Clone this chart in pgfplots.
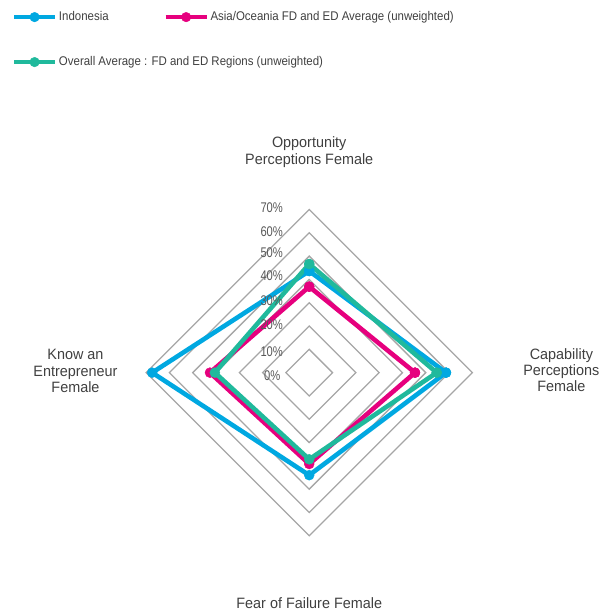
\documentclass[border=0pt]{standalone}
\usepackage{fontspec}
\setmainfont{Liberation Sans}[FakeStretch=0.96]
\newfontfamily\legfont{Liberation Sans}[FakeStretch=0.91]
\newfontfamily\tickfont{Liberation Sans}[FakeStretch=0.8]
\usepackage{pgfplots}
\pgfplotsset{compat=1.18}

\definecolor{indo}{HTML}{00A8E1}
\definecolor{asia}{HTML}{E6007E}
\definecolor{fded}{HTML}{20B99C}
\definecolor{ring}{HTML}{A6A6A6}
\definecolor{labc}{HTML}{404040}
\definecolor{tickc}{HTML}{595959}

\pgfplotsset{
  radar/.style={line width=4.6pt, line join=round, mark=*, mark size=5pt,
    mark options={line width=0.4pt}},
  leg/.style={legend image code/.code={
    \draw[mark repeat=2, mark phase=2, ##1, line width=3.8pt, mark size=4.8pt]
      plot coordinates {(0pt,0pt) (20.5pt,0pt) (41pt,0pt)};}},
  frame/.style={scale only axis, width=611pt, height=612pt,
    xmin=-132.7, xmax=129.5, ymin=-102.7, ymax=159.9,
    hide axis, clip=false, leg, legend cell align=left},
  lgd/.style={draw=none, fill=none, inner sep=0pt, text=labc,
    font=\legfont\fontsize{12.6}{14}\selectfont}
}

\begin{document}
\begin{tikzpicture}
\useasboundingbox (0,0) rectangle (611pt,612pt);
\begin{axis}[frame,
  legend columns=2,
  legend style={lgd, at={(0.01964,0.9843)}, anchor=north west,
    /tikz/every odd column/.append style={column sep=0pt},
    /tikz/every even column/.append style={column sep=53pt}}]

% diamond rings 10% .. 70%
\pgfplotsinvokeforeach{10,20,30,40,50,60,70}{
  \addplot[ring, line width=1.3pt, forget plot]
    coordinates {(0,#1) (#1,0) (0,-#1) (-#1,0) (0,#1) (#1,0)};
}

% top = opportunity, right = capability, bottom = fear of failure, left = know an entrepreneur
\addplot[indo, radar] coordinates {(0,43.6) (58.7,0) (0,-44.0) (-67.4,0) (0,43.6) (58.7,0)};
\addlegendentry{Indonesia}
\addplot[asia, radar] coordinates {(0,36.9) (45.4,0) (0,-39.2) (-42.6,0) (0,36.9) (45.4,0)};
\addlegendentry{Asia/Oceania FD and ED Average (unweighted)}
\addplot[fded, radar, forget plot] coordinates {(0,46.6) (54.7,0) (0,-37.2) (-40.5,0) (0,46.6) (54.7,0)};

% scale labels
\begin{scope}[every node/.style={anchor=base east, inner sep=0pt, text=tickc,
    font=\tickfont\fontsize{14}{16}\selectfont}]
\node at (axis cs:-11.2,68.6) {70\%};
\node at (axis cs:-11.2,58.6) {60\%};
\node at (axis cs:-11.2,49.3) {50\%};
\node at (axis cs:-11.2,39.4) {40\%};
\node at (axis cs:-11.2,29.0) {30\%};
\node at (axis cs:-11.2,18.6) {20\%};
\node at (axis cs:-11.2,6.9) {10\%};
\node at (axis cs:-12.3,-3.4) {0\%};
\end{scope}

% category labels
\begin{scope}[every node/.style={anchor=base, inner sep=0pt, text=labc,
    font=\fontsize{15}{17}\selectfont}]
\node at (axis cs:0,96.5) {Opportunity};
\node at (axis cs:0,89.4) {Perceptions Female};
\node at (axis cs:108.2,5.8) {Capability};
\node at (axis cs:108.2,-1.3) {Perceptions};
\node at (axis cs:108.2,-8.2) {Female};
\node at (axis cs:-100.3,5.6) {Know an};
\node at (axis cs:-100.3,-1.5) {Entrepreneur};
\node at (axis cs:-100.3,-8.5) {Female};
\node at (axis cs:0,-101.2) {Fear of Failure Female};
\end{scope}
\end{axis}

\begin{axis}[frame,
  legend style={lgd, at={(0.01964,0.9108)}, anchor=north west,
    /tikz/every odd column/.append style={column sep=0pt}}]
\addlegendimage{fded, radar}
\addlegendentry{Overall Average : FD and ED Regions (unweighted)}
\end{axis}
\end{tikzpicture}
\end{document}
